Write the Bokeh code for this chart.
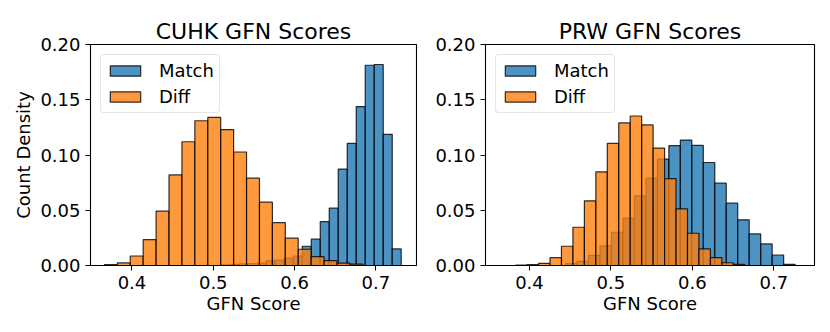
import numpy as np
from bokeh.plotting import figure
from bokeh.models import ColumnDataSource, Range1d, FixedTicker, NumeralTickFormatter, Legend, LegendItem
from bokeh.layouts import row
from bokeh.embed import file_html
from bokeh.resources import INLINE

# ---- data (normalised histogram heights, 20 bins each) ----
titles = ["CUHK GFN Scores", "PRW GFN Scores"]
series_names = ["Match", "Diff"]

cuhk_match_range = (0.5099, 0.7312)
cuhk_match = [0.0005, 0.0010, 0.0015, 0.0018, 0.0023, 0.0044, 0.0050, 0.0068, 0.0086, 0.0174,
              0.0238, 0.0397, 0.0519, 0.0873, 0.1105, 0.1438, 0.1812, 0.1819, 0.1187, 0.0150]
cuhk_diff_range = (0.3661, 0.6840)
cuhk_diff = [0.0008, 0.0023, 0.0086, 0.0234, 0.0492, 0.0820, 0.1120, 0.1310, 0.1340, 0.1230,
             0.1027, 0.0790, 0.0573, 0.0388, 0.0247, 0.0147, 0.0080, 0.0044, 0.0022, 0.0012]

prw_match_range = (0.4443, 0.7262)
prw_match = [0.0017, 0.0038, 0.0092, 0.0177, 0.0301, 0.0428, 0.0630, 0.0790, 0.0963, 0.1084,
             0.1135, 0.1087, 0.0932, 0.0745, 0.0564, 0.0413, 0.0286, 0.0195, 0.0095, 0.0011]
prw_diff_range = (0.3830, 0.6644)
prw_diff = [0.0003, 0.0008, 0.0020, 0.0071, 0.0174, 0.0346, 0.0585, 0.0848, 0.1105, 0.1290,
            0.1353, 0.1272, 0.1063, 0.0787, 0.0512, 0.0292, 0.0150, 0.0071, 0.0025, 0.0011]

x_ticks = [0.4, 0.5, 0.6, 0.7]
y_ticks = [0.0, 0.05, 0.10, 0.15, 0.20]
x_limits = [(0.349, 0.750), (0.346, 0.750)]
y_limits = (0.0, 0.20)

BLUE = "#1f77b4"
ORANGE = "#ff7f0e"
FONT = "DejaVu Sans"


def hist_source(rng, vals):
    edges = np.linspace(rng[0], rng[1], len(vals) + 1)
    return ColumnDataSource(dict(left=edges[:-1], right=edges[1:], top=vals,
                                 bottom=[0.0] * len(vals)))


def make_panel(title, match_rng, match_vals, diff_rng, diff_vals, xlim, fw, bl, br, ylabel):
    p = figure(frame_width=fw, frame_height=221, output_backend="svg", toolbar_location=None,
               x_range=Range1d(*xlim), y_range=Range1d(*y_limits),
               min_border_left=bl, min_border_right=br, min_border_top=44, min_border_bottom=58)
    p.title.text = title
    p.title.text_font = FONT
    p.title.text_font_size = "22px"
    p.title.text_font_style = "normal"
    p.title.text_color = "black"
    p.title.align = "center"
    p.title.standoff = 2

    r1 = p.quad(left="left", right="right", top="top", bottom="bottom",
                source=hist_source(match_rng, match_vals),
                fill_color=BLUE, fill_alpha=0.8, line_color="black", line_alpha=0.8, line_width=1.2)
    r2 = p.quad(left="left", right="right", top="top", bottom="bottom",
                source=hist_source(diff_rng, diff_vals),
                fill_color=ORANGE, fill_alpha=0.8, line_color="black", line_alpha=0.8, line_width=1.2)

    p.xgrid.visible = False
    p.ygrid.visible = False
    p.outline_line_color = "black"
    p.outline_line_width = 1.1
    p.outline_line_alpha = 1.0

    for ax in (p.xaxis[0], p.yaxis[0]):
        ax.major_label_text_font = FONT
        ax.major_label_text_font_size = "18px"
        ax.major_label_text_color = "black"
        ax.axis_label_text_font = FONT
        ax.axis_label_text_font_size = "18px"
        ax.axis_label_text_font_style = "normal"
        ax.axis_label_text_color = "black"
        ax.major_tick_in = 0
        ax.major_tick_out = 5
        ax.minor_tick_in = 0
        ax.minor_tick_out = 0
        ax.major_label_standoff = 5
        ax.axis_line_color = "black"
        ax.major_tick_line_color = "black"
    p.xaxis[0].axis_label_standoff = 1
    p.yaxis[0].axis_label_standoff = 3

    p.xaxis[0].ticker = FixedTicker(ticks=x_ticks)
    p.xaxis[0].formatter = NumeralTickFormatter(format="0.0")
    p.yaxis[0].ticker = FixedTicker(ticks=y_ticks)
    p.yaxis[0].formatter = NumeralTickFormatter(format="0.00")
    p.xaxis[0].axis_label = "GFN Score"
    if ylabel:
        p.yaxis[0].axis_label = ylabel

    legend = Legend(items=[LegendItem(label=series_names[0], renderers=[r1]),
                           LegendItem(label=series_names[1], renderers=[r2])],
                    location="top_left")
    legend.label_text_font = FONT
    legend.label_text_font_size = "18px"
    legend.label_text_color = "black"
    legend.glyph_width = 38
    legend.glyph_height = 13
    legend.label_height = 20
    legend.label_standoff = 15
    legend.spacing = 5
    legend.padding = 5
    legend.margin = 10
    legend.border_line_color = "#cccccc"
    legend.border_line_width = 1
    legend.background_fill_color = "white"
    legend.background_fill_alpha = 0.8
    if "border_radius" in Legend.properties():
        legend.border_radius = 4
    p.add_layout(legend)
    return p


p1 = make_panel(titles[0], cuhk_match_range, cuhk_match, cuhk_diff_range, cuhk_diff,
                x_limits[0], 326, 90, 16, "Count Density")
p2 = make_panel(titles[1], prw_match_range, prw_match, prw_diff_range, prw_diff,
                x_limits[1], 329, 50, 10, None)

layout = row(p1, p2)
open("out.html", "w").write(file_html(layout, INLINE))
